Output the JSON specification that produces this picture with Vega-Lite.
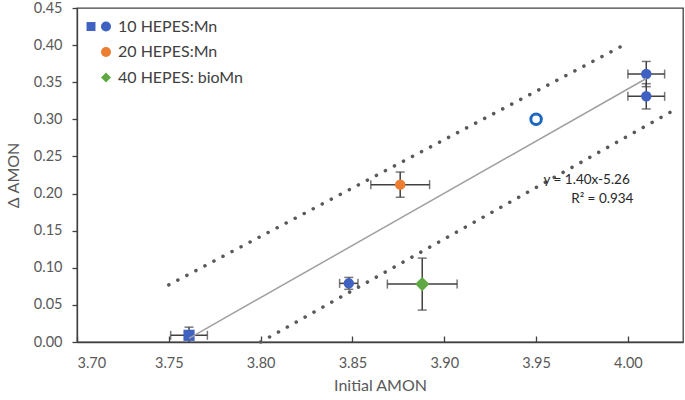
{
  "$schema": "https://vega.github.io/schema/vega-lite/v6.json",
  "width": 606,
  "height": 334,
  "autosize": {"type": "none"},
  "padding": {"left": 77, "top": 8, "right": 2, "bottom": 58},
  "background": "white",
  "config": {
    "font": "Lato",
    "view": {"stroke": "#404040", "strokeWidth": 1.3},
    "axis": {
      "grid": false,
      "domainColor": "#404040",
      "domainWidth": 1.3,
      "tickColor": "#404040",
      "tickWidth": 1.3,
      "labelColor": "#595959",
      "labelFontSize": 14.5,
      "labelOverlap": false,
      "titleColor": "#595959",
      "titleFontSize": 16,
      "titleFontWeight": "normal"
    }
  },
  "datasets": {
    "points": [
      {"series": "10 HEPES:Mn", "kind": "sq", "x": 3.761, "y": 0.009, "xerr": 0.010, "yerr": 0.011},
      {"series": "10 HEPES:Mn", "kind": "main", "x": 3.848, "y": 0.079, "xerr": 0.005, "yerr": 0.008},
      {"series": "20 HEPES:Mn", "kind": "main", "x": 3.876, "y": 0.212, "xerr": 0.016, "yerr": 0.017},
      {"series": "40 HEPES: bioMn", "kind": "main", "x": 3.888, "y": 0.078, "xerr": 0.019, "yerr": 0.035},
      {"series": "10 HEPES:Mn", "kind": "main", "x": 4.010, "y": 0.361, "xerr": 0.010, "yerr": 0.017},
      {"series": "10 HEPES:Mn", "kind": "main", "x": 4.010, "y": 0.331, "xerr": 0.010, "yerr": 0.017},
      {"series": "reference", "kind": "ref", "x": 3.950, "y": 0.300}
    ],
    "fit": [{"x": 3.761, "y": 0.005}, {"x": 4.010, "y": 0.355}],
    "upper": [{"x": 3.750, "y": 0.077}, {"x": 4.000, "y": 0.403}],
    "lower": [{"x": 3.800, "y": 0.0}, {"x": 4.027, "y": 0.315}],
    "notes": [
      {"x": 4.001, "y": 0.2176, "label": "y = 1.40x-5.26"},
      {"x": 4.003, "y": 0.193, "label": "R² = 0.934"}
    ]
  },
  "encoding": {
    "x": {"field": "x", "type": "quantitative", "title": "Initial AMON",
      "scale": {"domain": [3.70, 4.03], "nice": false, "zero": false},
      "axis": {"values": [3.70, 3.75, 3.80, 3.85, 3.90, 3.95, 4.00], "format": ".2f", "tickSize": -6, "labelPadding": 20, "titlePadding": 8}},
    "y": {"field": "y", "type": "quantitative", "title": "Δ AMON",
      "scale": {"domain": [0, 0.45], "nice": false},
      "axis": {"values": [0, 0.05, 0.1, 0.15, 0.2, 0.25, 0.3, 0.35, 0.4, 0.45], "format": ".2f", "tickSize": 5, "labelPadding": 10, "titlePadding": 12}}
  },
  "layer": [
    {
      "data": {"name": "points"},
      "transform": [{"filter": "datum.kind !== 'ref'"}],
      "mark": {"type": "errorbar", "ticks": {"size": 9, "thickness": 1.5, "color": "#404040"}, "thickness": 1.5, "color": "#404040", "clip": true},
      "encoding": {
        "xError": {"field": "xerr"}
      }
    },
    {
      "data": {"name": "points"},
      "transform": [{"filter": "datum.kind !== 'ref'"}],
      "mark": {"type": "errorbar", "ticks": {"size": 9, "thickness": 1.5, "color": "#404040"}, "thickness": 1.5, "color": "#404040", "clip": true},
      "encoding": {
        "yError": {"field": "yerr"}
      }
    },
    {
      "data": {"name": "points"},
      "transform": [{"filter": "datum.kind === 'main' && datum.series !== '40 HEPES: bioMn'"}],
      "mark": {"type": "point", "filled": true, "size": 110, "opacity": 1},
      "encoding": {
        "color": {"field": "series", "type": "nominal",
          "scale": {"domain": ["10 HEPES:Mn", "20 HEPES:Mn", "40 HEPES: bioMn"], "range": ["#3F62C2", "#ED7D31", "#5FA843"]},
          "legend": {"orient": "none", "legendX": 21, "legendY": 10.5, "title": null, "padding": 0, "symbolSize": 100, "symbolStrokeWidth": 0, "labelFontSize": 16, "labelColor": "#404040", "rowPadding": 9.5, "labelOffset": 4}},
        "shape": {"field": "series", "type": "nominal",
          "scale": {"domain": ["10 HEPES:Mn", "20 HEPES:Mn", "40 HEPES: bioMn"], "range": ["circle", "circle", "diamond"]}}
      }
    },
    {
      "data": {"name": "points"},
      "transform": [{"filter": "datum.series === '40 HEPES: bioMn'"}],
      "mark": {"type": "point", "filled": true, "size": 200, "opacity": 1},
      "encoding": {
        "color": {"field": "series", "type": "nominal"},
        "shape": {"field": "series", "type": "nominal"}
      }
    },
    {
      "data": {"name": "points"},
      "transform": [{"filter": "datum.kind === 'sq'"}],
      "mark": {"type": "point", "filled": true, "shape": "square", "size": 125, "color": "#3F62C2"},
      "encoding": {
        "opacity": {"field": "kind", "type": "nominal", "scale": {"domain": ["sq"], "range": [1]},
          "legend": {"orient": "none", "legendX": 6, "legendY": 10.5, "title": null, "padding": 0, "symbolType": "square", "symbolSize": 80, "symbolFillColor": "#3F62C2", "symbolStrokeWidth": 0, "labelExpr": "''", "labelFontSize": 16}}
      }
    },
    {
      "data": {"name": "points"},
      "transform": [{"filter": "datum.kind === 'ref'"}],
      "mark": {"type": "point", "filled": false, "size": 110, "strokeWidth": 3, "color": "#1C68C0", "opacity": 1},
      "encoding": {}
    },
    {
      "data": {"name": "fit"},
      "mark": {"type": "line", "color": "#A0A0A0", "strokeWidth": 1.5},
      "encoding": {}
    },
    {
      "data": {"name": "upper"},
      "mark": {"type": "line", "color": "#595959", "strokeWidth": 3.5, "strokeDash": [0.1, 10.1], "strokeCap": "round"},
      "encoding": {}
    },
    {
      "data": {"name": "lower"},
      "mark": {"type": "line", "color": "#595959", "strokeWidth": 3.5, "strokeDash": [0.1, 10.1], "strokeCap": "round"},
      "encoding": {}
    },
    {
      "data": {"name": "notes"},
      "mark": {"type": "text", "align": "right", "baseline": "middle", "fontSize": 13.5, "color": "#262626"},
      "encoding": {
        "text": {"field": "label"}
      }
    }
  ]
}
